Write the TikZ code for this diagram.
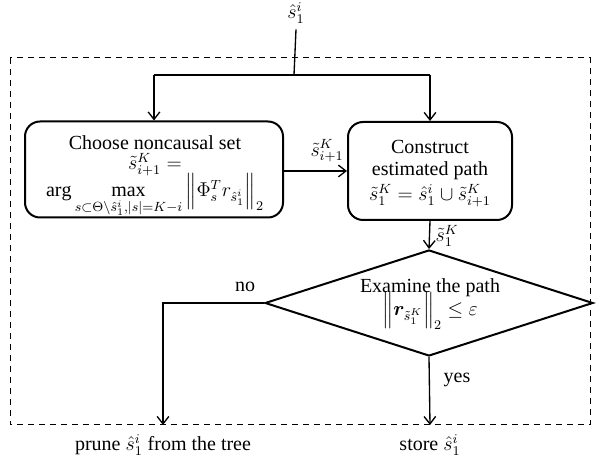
\documentclass[tikz,border=0pt]{standalone}
\usepackage{amsmath,amssymb,bm}
\usepackage{fontspec}
\setmainfont{Liberation Serif}
\usetikzlibrary{arrows.meta,shapes.geometric}
\begin{document}
\begin{tikzpicture}[x=0.6pt,y=-0.6pt,
  every node/.style={font=\fontsize{12}{14}\selectfont},
  line/.style={anchor=base,inner sep=0pt},
  procbox/.style={draw,line width=1.2pt,rounded corners=9pt,inner sep=0pt},
  decision/.style={draw,line width=1.2pt,diamond,shape aspect=3.09,inner sep=0pt},
  flow/.style={line width=0.8pt,-{Straight Barb[length=4.5pt,width=7pt,line width=0.8pt]}},
  plain/.style={line width=0.8pt},
  frame/.style={line width=0.6pt,dash pattern=on 3.6pt off 3pt}]
\useasboundingbox (0,0) rectangle (600,464);

% enclosing dashed frame
\draw[frame] (10,58) rectangle (590,425);

% input
\node (top) at (296,13) {$\hat{s}_1^i$};
\coordinate (split) at (294,75);
\coordinate (splitL) at (154,75);
\coordinate (splitR) at (430,75);

% process box: choose the noncausal set
\node[procbox,minimum width=154.8pt,minimum height=57.6pt] (choose) at (154,169.5) {};
\node[line] (chooseA) at (155,150) {Choose noncausal set};
\node[line] (chooseB) at (155,170) {$\tilde{s}_{i+1}^K=$};
\node[line] (chooseC) at (155,197)
  {$\arg\max\limits_{s\subset\Theta\setminus\hat{s}_1^i,|s|=K-i}\left\|\Phi_s^T r_{\hat{s}_1^i}\right\|_2$};

% process box: construct the path
\node[procbox,minimum width=98.4pt,minimum height=58.8pt] (build) at (430,171) {};
\node[line] (buildA) at (430,154) {Construct};
\node[line] (buildB) at (430,176) {estimated path};
\node[line] (buildC) at (430,201) {$\tilde{s}_1^K=\hat{s}_1^i\cup\tilde{s}_{i+1}^K$};

% decision
\node[decision,minimum width=196.8pt,minimum height=63.6pt] (exam) at (429,303) {};
\node[line] (examA) at (430,293) {Examine the path};
\node[line] (examB) at (430,316) {$\left\|\bm{r}_{\tilde{s}_1^K}\right\|_2\le\varepsilon$};

% outputs
\coordinate (pruneend) at (163,425);
\coordinate (storeend) at (430,425);
\coordinate (bend) at (163,303);
\node[line] (prune) at (163,451) {prune $\hat{s}_1^i$ from the tree};
\node[line] (store) at (430,451) {store $\hat{s}_1^i$};

% connectors
\draw[plain] (top.south) -- (split);
\draw[plain] (splitL) -- (splitR);
\draw[flow] (splitL) -- (choose.north);
\draw[flow] (splitR) -- (build.north);
\draw[flow] (choose.east |- 0,171) -- (build.west);
\draw[flow] (build.south) -- (exam.north);
\draw[flow] (exam.west) -- (bend) -- (pruneend);
\draw[flow] (exam.south) -- (storeend);

% connector labels
\node (lblnext) at (327,151) {$\tilde{s}_{i+1}^K$};
\node (lblpath) at (447,236) {$\tilde{s}_1^K$};
\node (lblno) at (245,287) {no};
\node (lblyes) at (457,380) {yes};
\end{tikzpicture}
\end{document}
